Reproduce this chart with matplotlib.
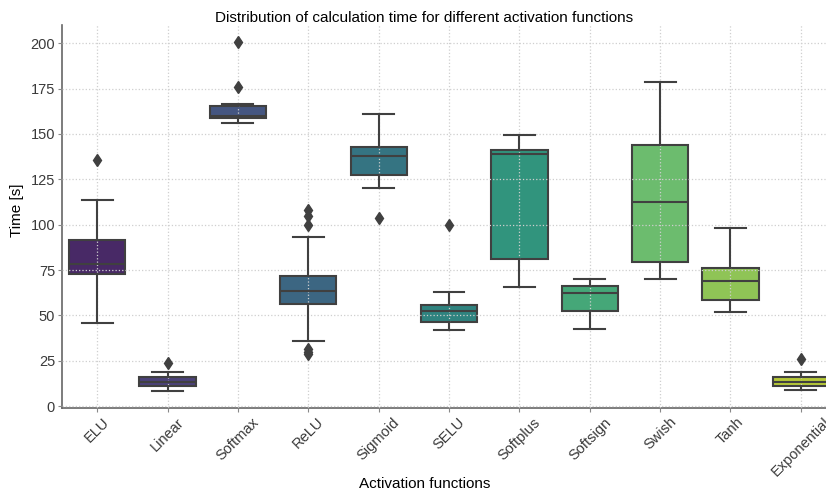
import matplotlib
matplotlib.use("Agg")
import matplotlib.pyplot as plt
import seaborn as sns
import colorsys

# activation functions and box statistics (seconds)
fonctions = ["ELU", "Linear", "Softmax", "ReLU", "Sigmoid", "SELU",
             "Softplus", "Softsign", "Swish", "Tanh", "Exponential"]
bas = [46, 8.6, 156.2, 36.1, 120.2, 41.9, 65.9, 42.3, 70.3, 51.8, 8.8]
q1 = [73.1, 11.2, 158.6, 56.4, 127.6, 46.3, 81.3, 52.4, 79.3, 58.6, 11.0]
mediane = [78.6, 13.6, 159.9, 63.7, 138.1, 52.4, 138.8, 62.5, 112.3, 69.1, 13.6]
q3 = [91.6, 16.1, 165.4, 72.0, 143.0, 56.0, 141.2, 66.5, 143.8, 76.0, 15.9]
haut = [113.6, 18.9, 166.6, 93.2, 160.8, 62.8, 149.3, 70.0, 178.6, 98.0, 19.1]
aberrants = [[135.9], [23.8], [200.7, 176.0], [107.9, 105.0, 99.8, 31.7, 30.0, 28.5],
             [103.5], [100.0], [], [], [], [], [26.2]]
graduations_y = [0, 25, 50, 75, 100, 125, 150, 175, 200]

plt.rcParams["font.family"] = ["Liberation Sans", "DejaVu Sans"]

stats = []
for i in range(len(fonctions)):
    stats.append({"label": fonctions[i], "whislo": bas[i], "q1": q1[i], "med": mediane[i],
                  "q3": q3[i], "whishi": haut[i], "fliers": aberrants[i]})


def desaturer(couleur, prop=0.75):
    h, l, s = colorsys.rgb_to_hls(*couleur)
    return colorsys.hls_to_rgb(h, l, s * prop)


couleurs = [desaturer(c) for c in sns.color_palette("viridis", len(fonctions))]

fig = plt.figure(figsize=(8.26, 4.9), dpi=100)
# the axes run a little past the right edge, as in the reference (cropped)
ax = fig.add_axes([0.0751, 0.1673, 0.937, 0.7816])

gris = "#404040"
traits = dict(color=gris, linewidth=1.5, zorder=3)
boites = ax.bxp(stats, positions=range(len(fonctions)), widths=0.8, capwidths=0.44,
                patch_artist=True,
                boxprops=dict(edgecolor=gris, linewidth=1.5, zorder=2),
                medianprops=traits, whiskerprops=traits, capprops=traits,
                flierprops=dict(marker="d", markerfacecolor=gris, markeredgecolor=gris,
                                markersize=6, zorder=3))
for boite, c in zip(boites["boxes"], couleurs):
    boite.set_facecolor(c)

ax.set_xlim(-0.5, len(fonctions) - 0.5)
ax.set_ylim(-1, 210)
ax.set_yticks(graduations_y)
ax.set_xticks(range(len(fonctions)))
ax.set_xticklabels(fonctions, rotation=45, ha="center")

ax.set_axisbelow(False)
ax.grid(True, linestyle=":", color="#cfcfcf", linewidth=0.9)
for cote in ["top", "right"]:
    ax.spines[cote].set_visible(False)
for cote in ["left", "bottom"]:
    ax.spines[cote].set_color("#666666")
    ax.spines[cote].set_linewidth(1.2)
ax.tick_params(direction="out", length=3, color="#888888", labelcolor="#3a3a3a",
               labelsize=10.5, pad=2)

ax.set_title("Distribution of calculation time for different activation functions",
             fontsize=11, x=0.468, y=1.008, pad=0)
ax.set_xlabel("Activation functions", fontsize=11, va="top")
ax.xaxis.set_label_coords(0.468, -0.18)
ax.set_ylabel("Time [s]", fontsize=11)
ax.yaxis.set_label_coords(-0.049, 0.517)

fig.savefig("out.png", dpi=100)
